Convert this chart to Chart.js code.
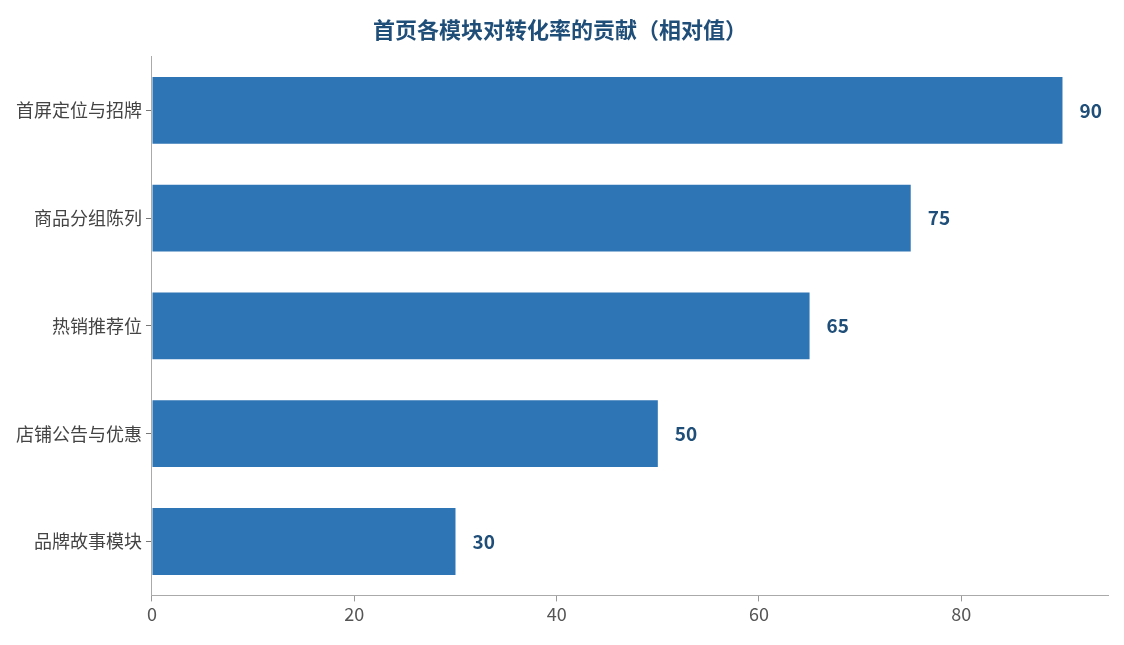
<!DOCTYPE html>
<html><head><meta charset="utf-8">
<script src="https://cdn.jsdelivr.net/npm/chart.js@4"></script>
<style>html,body{margin:0;padding:0;background:#fff}#w{width:1124px;height:645px}</style>
</head><body><div id="w"><canvas id="c"></canvas></div>
<script>
const categories = ["首屏定位与招牌","商品分组陈列","热销推荐位","店铺公告与优惠","品牌故事模块"];
const values = [90,75,65,50,30];
const xTicks = [0,20,40,60,80];
const titleText = "首页各模块对转化率的贡献（相对值）";
const FONT = "'Noto Sans CJK SC','Noto Sans',sans-serif";
const labelPlugin = {
  id:'lbl',
  afterDatasetsDraw(chart){
    const ctx=chart.ctx, meta=chart.getDatasetMeta(0);
    ctx.save();
    ctx.font="bold 19px "+FONT; ctx.fillStyle="#1f4e79";
    ctx.textAlign="left"; ctx.textBaseline="middle";
    meta.data.forEach((b,i)=>{ctx.fillText(String(values[i]), b.x+17, b.y);});
    ctx.restore();
  }
};
new Chart(document.getElementById('c'),{
  type:'bar',
  data:{labels:categories,datasets:[{data:values,backgroundColor:'#2e75b6',barPercentage:0.62,categoryPercentage:1}]},
  plugins:[labelPlugin],
  options:{
    indexAxis:'y',responsive:true,maintainAspectRatio:false,animation:false,
    layout:{padding:{left:12,right:16,top:12,bottom:18}},
    plugins:{legend:{display:false},tooltip:{enabled:false},
      title:{display:true,text:titleText,color:'#1f4e79',font:{family:FONT,size:22,weight:'bold'},padding:{top:4,bottom:14}}},
    scales:{
      x:{min:0,max:94.5,afterBuildTicks(s){s.ticks=xTicks.map(v=>({value:v}));},
         ticks:{color:'#555',font:{family:FONT,size:18},padding:2},
         grid:{display:true,drawOnChartArea:false,drawTicks:true,tickLength:6,tickColor:'#999'},border:{color:'#aaa'}},
      y:{ticks:{color:'#444',font:{family:FONT,size:18},padding:4},
         grid:{display:true,drawOnChartArea:false,drawTicks:true,tickLength:6,tickColor:'#777',offset:false},border:{color:'#aaa'}}
    }
  }
});
</script></body></html>
